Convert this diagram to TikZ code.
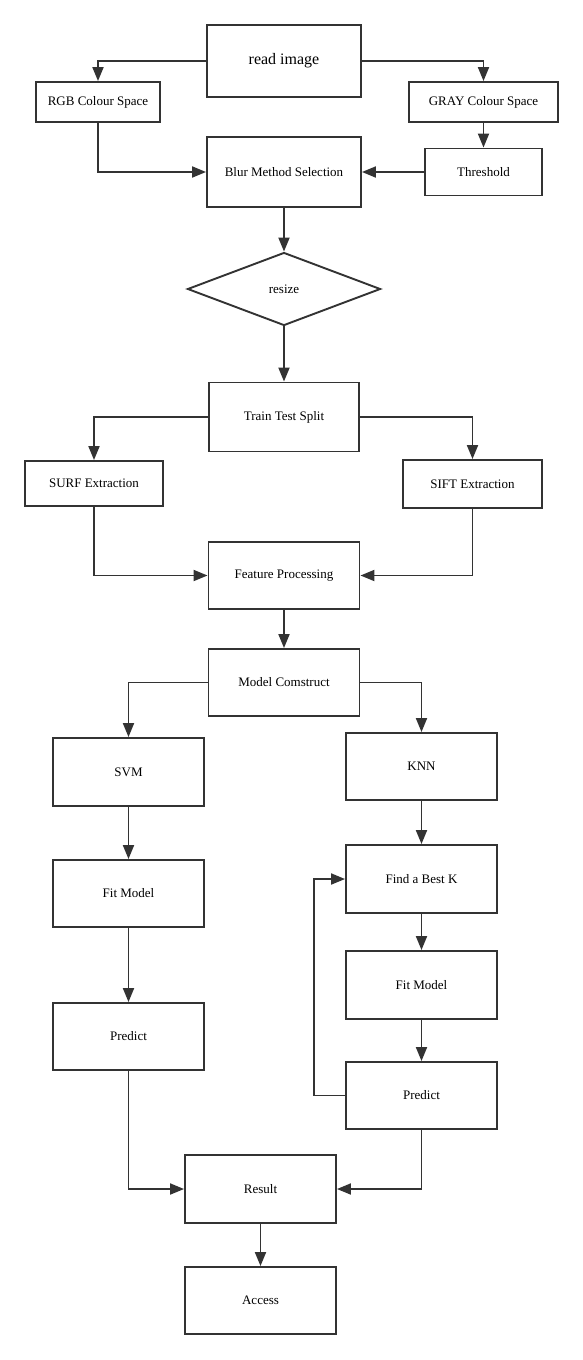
\documentclass[tikz,border=0pt]{standalone}
\usepackage{fontspec}
\setmainfont{Liberation Serif}
\usetikzlibrary{shapes}
\usetikzlibrary{arrows.meta}
\definecolor{linegray}{HTML}{333333}

\begin{document}
\begin{tikzpicture}[x=1pt,y=-1pt]
			\tikzstyle{stepbox}=[rectangle,draw=linegray,line width=1.9pt,inner sep=0pt,minimum width=151pt,minimum height=67pt,font=\fontsize{13}{15}\selectfont]
			\tikzstyle{decide}=[diamond,draw=linegray,line width=1.9pt,inner sep=0pt,minimum width=193pt,minimum height=73pt,font=\fontsize{13}{15}\selectfont]
			\tikzstyle{flow}=[draw=linegray,line width=1.9pt,-{Triangle[length=14pt,width=11pt]}]
			\useasboundingbox (0,0) rectangle (582,1360);
			
			\node[stepbox,minimum width=154pt,minimum height=72pt,font=\fontsize{16}{18}\selectfont] (read) at (284,61) {read image};
			\node[stepbox,minimum width=124pt,minimum height=40pt] (rgb) at (98,102) {RGB Colour Space};
			\node[stepbox,minimum width=149pt,minimum height=40pt] (gray) at (483.5,102) {GRAY Colour Space};
			\node[stepbox,minimum width=154pt,minimum height=70pt] (blur) at (284,172) {Blur Method Selection};
			\node[stepbox,minimum width=117pt,minimum height=47pt] (thresh) at (483.5,172) {Threshold};
			\node[decide] (resize) at (284,289) {resize};
			\node[stepbox,minimum width=150pt,minimum height=69pt] (split) at (284,417) {Train Test Split};
			\node[stepbox,minimum width=138pt,minimum height=45pt] (surf) at (94,483.5) {SURF Extraction};
			\node[stepbox,minimum width=139pt,minimum height=48pt] (sift) at (472.5,484) {SIFT Extraction};
			\node[stepbox] (feat) at (284,575.5) {Feature Processing};
			\node[stepbox] (model) at (284,682.5) {Model Comstruct};
			
			\node[stepbox,minimum height=68pt] (svm) at (128.5,772) {SVM};
			\node[stepbox] (svmfit) at (128.5,893.5) {Fit Model};
			\node[stepbox] (svmpred) at (128.5,1036.5) {Predict};
			
			\node[stepbox] (knn) at (421.5,766.5) {KNN};
			\node[stepbox,minimum height=68pt] (bestk) at (421.5,879) {Find a Best K};
			\node[stepbox,minimum height=68pt] (knnfit) at (421.5,985) {Fit Model};
			\node[stepbox] (knnpred) at (421.5,1095.5) {Predict};
			
			\node[stepbox,minimum height=68pt] (result) at (260.5,1189) {Result};
			\node[stepbox] (access) at (260.5,1300.5) {Access};
			
			\draw[flow] (read.west) -| (rgb.north);
			\draw[flow] (read.east) -| (gray.north);
			\draw[flow] (rgb.south) |- (blur.west);
			\draw[flow] (gray.south) -- (thresh.north);
			\draw[flow] (thresh.west) -- (blur.east);
			\draw[flow] (blur.south) -- (resize.north);
			\draw[flow] (resize.south) -- (split.north);
			\draw[flow] (split.west) -| (surf.north);
			\draw[flow] (split.east) -| (sift.north);
			\draw[flow] (surf.south) |- (feat.west);
			\draw[flow] (sift.south) |- (feat.east);
			\draw[flow] (feat.south) -- (model.north);
			\draw[flow] (model.west) -| (svm.north);
			\draw[flow] (model.east) -| (knn.north);
			\draw[flow] (svm.south) -- (svmfit.north);
			\draw[flow] (svmfit.south) -- (svmpred.north);
			\draw[flow] (knn.south) -- (bestk.north);
			\draw[flow] (bestk.south) -- (knnfit.north);
			\draw[flow] (knnfit.south) -- (knnpred.north);
			\draw[flow] (knnpred.west) -- ++(-31,0) |- (bestk.west);
			\draw[flow] (svmpred.south) |- (result.west);
			\draw[flow] (knnpred.south) |- (result.east);
			\draw[flow] (result.south) -- (access.north);
			
\end{tikzpicture}
\end{document}
